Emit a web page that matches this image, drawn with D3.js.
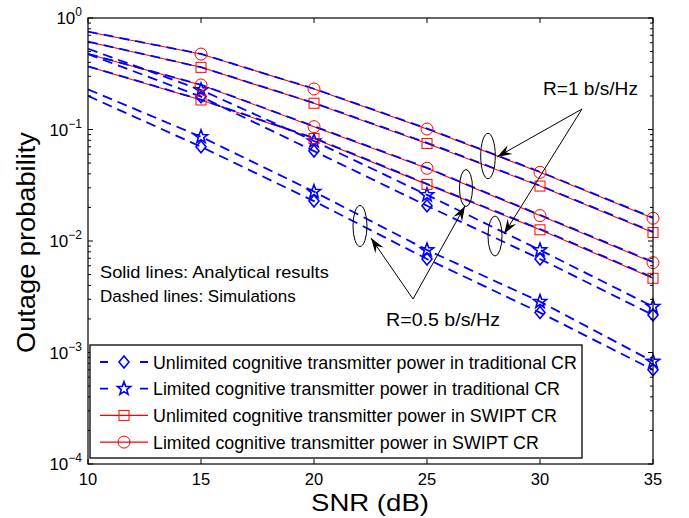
<!DOCTYPE html>
<html><head><meta charset="utf-8">
<script src="https://cdn.jsdelivr.net/npm/d3@7"></script>
<style>
html,body{margin:0;padding:0;background:#fff;}
text{font-family:"Liberation Sans",Arial,Helvetica,sans-serif;}
</style></head>
<body>
<svg id="chart" width="689" height="518"></svg>
<script>
// ---- data ----
const snr = [10, 15, 20, 25, 30, 35];
const markerSnr = [15, 20, 25, 30, 35];
const xTicks = [10, 15, 20, 25, 30, 35];
const yTickExps = [0, -1, -2, -3, -4];

// R = 1 b/s/Hz
const tradUnlimR1 = [0.475, 0.197, 0.064, 0.0207, 0.0069, 0.00217];
const tradLimR1   = [0.53, 0.226, 0.0788, 0.0259, 0.0083, 0.00258];
const swiptUnlimR1 = [0.613, 0.361, 0.172, 0.075, 0.0311, 0.0119];
const swiptLimR1   = [0.753, 0.475, 0.231, 0.101, 0.0413, 0.0160];
const swiptUnlimR1Sim = [0.615, 0.362, 0.173, 0.076, 0.0314, 0.0121];
const swiptLimR1Sim   = [0.755, 0.476, 0.232, 0.102, 0.0417, 0.0162];
// R = 0.5 b/s/Hz
const tradUnlimR05 = [0.200, 0.070, 0.0228, 0.0069, 0.00228, 0.00070];
const tradLimR05   = [0.229, 0.086, 0.0277, 0.0083, 0.00286, 0.00083];
const swiptUnlimR05 = [0.367, 0.184, 0.083, 0.0322, 0.0126, 0.00463];
const swiptLimR05   = [0.475, 0.251, 0.106, 0.0449, 0.0169, 0.0064];
const swiptUnlimR05Sim = [0.369, 0.185, 0.084, 0.0325, 0.0128, 0.00470];
const swiptLimR05Sim   = [0.477, 0.252, 0.107, 0.0453, 0.0171, 0.0065];

const legendLabels = [
  "Unlimited cognitive transmitter power in traditional CR",
  "Limited cognitive transmitter power in traditional CR",
  "Unlimited cognitive transmitter power in SWIPT CR",
  "Limited cognitive transmitter power in SWIPT CR"
];

// ---- layout ----
const L = 88, R = 653, T = 18, B = 464;
const svg = d3.select("#chart");
const x = d3.scaleLinear().domain([10, 35]).range([L, R]);
const y = d3.scaleLog().domain([1e-4, 1]).range([B, T]);
const BLUE = "#0000ff", RED = "#ff0000";

// text placed at (tx,ty), stretched horizontally to width w, optional rotation
function fitText(parent, str, tx, ty, fs, w, rot){
  const t = parent.append("text").attr("x",0).attr("y",0).attr("font-size",fs).text(str);
  const w0 = t.node().getComputedTextLength();
  const sx = w0 > 0 ? w / w0 : 1;
  t.attr("transform", `translate(${tx},${ty})` + (rot ? ` rotate(${rot})` : "") + ` scale(${sx},1)`);
  return t;
}

// markers
function diamondPath(s){return `M0,${-6*s}L${5*s},0L0,${6*s}L${-5*s},0Z`;}
function starPath(s){
  let p=[];for(let i=0;i<10;i++){const r=(i%2?2.9:7)*s;const a=-Math.PI/2+i*Math.PI/5;p.push([r*Math.cos(a),r*Math.sin(a)]);}
  return "M"+p.map(d=>d[0].toFixed(2)+","+d[1].toFixed(2)).join("L")+"Z";
}
function drawMarker(g, type, cx, cy){
  if(type==="diamond") g.append("path").attr("d",diamondPath(1)).attr("transform",`translate(${cx},${cy})`).attr("fill","none").attr("stroke",BLUE).attr("stroke-width",1.6);
  else if(type==="star") g.append("path").attr("d",starPath(1)).attr("transform",`translate(${cx},${cy})`).attr("fill","none").attr("stroke",BLUE).attr("stroke-width",1.6);
  else if(type==="square") g.append("rect").attr("x",cx-5).attr("y",cy-5).attr("width",10).attr("height",10).attr("fill","none").attr("stroke",RED).attr("stroke-width",1);
  else if(type==="circle") g.append("circle").attr("cx",cx).attr("cy",cy).attr("r",6).attr("fill","none").attr("stroke",RED).attr("stroke-width",1);
}

const line = d3.line().x((d,i)=>x(snr[i])).y(d=>y(d));
const plot = svg.append("g");

// analytical SWIPT (red solid)
[swiptLimR1, swiptUnlimR1, swiptLimR05, swiptUnlimR05].forEach(vals=>{
  plot.append("path").attr("d",line(vals)).attr("fill","none").attr("stroke",RED).attr("stroke-width",1.1);
});
// simulations (blue dashed)
[swiptLimR1Sim, swiptUnlimR1Sim, swiptLimR05Sim, swiptUnlimR05Sim, tradLimR1, tradUnlimR1, tradLimR05, tradUnlimR05].forEach(vals=>{
  plot.append("path").attr("d",line(vals)).attr("fill","none").attr("stroke",BLUE).attr("stroke-width",1.8).attr("stroke-dasharray","10,6");
});
// markers
const markerSets = [
  [tradUnlimR1,"diamond"],[tradLimR1,"star"],[tradUnlimR05,"diamond"],[tradLimR05,"star"],
  [swiptUnlimR1,"square"],[swiptLimR1,"circle"],[swiptUnlimR05,"square"],[swiptLimR05,"circle"]
];
markerSets.forEach(([vals,type])=>{
  markerSnr.forEach(s=>{const i=snr.indexOf(s);drawMarker(plot,type,x(s),y(vals[i]));});
});

// ---- axes box & ticks ----
const ax = svg.append("g");
ax.append("rect").attr("x",L).attr("y",T).attr("width",R-L).attr("height",B-T).attr("fill","none").attr("stroke","#000").attr("stroke-width",1.2);
xTicks.forEach(t=>{
  ax.append("line").attr("x1",x(t)).attr("x2",x(t)).attr("y1",B).attr("y2",B-5).attr("stroke","#000");
  ax.append("line").attr("x1",x(t)).attr("x2",x(t)).attr("y1",T).attr("y2",T+5).attr("stroke","#000");
  ax.append("text").attr("x",x(t)).attr("y",B+21).attr("text-anchor","middle").attr("font-size",16.5).text(t);
});
yTickExps.forEach(e=>{
  const v=Math.pow(10,e);
  ax.append("line").attr("x1",L).attr("x2",L+5).attr("y1",y(v)).attr("y2",y(v)).attr("stroke","#000");
  ax.append("line").attr("x1",R).attr("x2",R-5).attr("y1",y(v)).attr("y2",y(v)).attr("stroke","#000");
  const tx=ax.append("text").attr("x",L-6).attr("y",y(v)+6).attr("text-anchor","end").attr("font-size",17);
  tx.append("tspan").text("10");
  tx.append("tspan").attr("dy",-8).attr("font-size",12).text(e===0?"0":"\u2212"+(-e));
  if(e>-4){for(let k=2;k<=9;k++){const mv=k*Math.pow(10,e-1);
    ax.append("line").attr("x1",L).attr("x2",L+3).attr("y1",y(mv)).attr("y2",y(mv)).attr("stroke","#000");
    ax.append("line").attr("x1",R).attr("x2",R-3).attr("y1",y(mv)).attr("y2",y(mv)).attr("stroke","#000");
  }}
});
fitText(svg, "SNR (dB)", 311, 511, 24, 118);
fitText(svg, "Outage probability", 35, 353, 26, 221, -90);

// ---- annotations ----
const ann = svg.append("g");
fitText(ann, "Solid lines: Analytical results", 100, 278, 17, 229);
fitText(ann, "Dashed lines: Simulations", 100, 302, 17, 196);
fitText(ann, "R=1 b/s/Hz", 543, 95, 18, 95);
fitText(ann, "R=0.5 b/s/Hz", 386, 326, 18, 114);
[[488,156,7.3,22.7],[466,188,6.5,18.5],[495,236,7,20],[360,226,7,20.5]].forEach(e=>{
  ann.append("ellipse").attr("cx",e[0]).attr("cy",e[1]).attr("rx",e[2]).attr("ry",e[3]).attr("fill","none").attr("stroke","#000").attr("stroke-width",1);
});
function arrow(x1,y1,x2,y2){
  ann.append("line").attr("x1",x1).attr("y1",y1).attr("x2",x2).attr("y2",y2).attr("stroke","#000").attr("stroke-width",1);
  const a=Math.atan2(y2-y1,x2-x1), len=15, w=5;
  const bx=x2-len*Math.cos(a), by=y2-len*Math.sin(a);
  const mx=x2-len*0.65*Math.cos(a), my=y2-len*0.65*Math.sin(a);
  const px=-Math.sin(a), py=Math.cos(a);
  ann.append("path").attr("d",`M${x2},${y2}L${bx+w*px},${by+w*py}L${mx},${my}L${bx-w*px},${by-w*py}Z`).attr("fill","#000");
}
arrow(582,109,497,157);
arrow(582,109,504,234);
arrow(413,299,465,206);
arrow(413,299,371,238);

// ---- legend ----
const lg = svg.append("g");
lg.append("rect").attr("x",90).attr("y",345).attr("width",492).attr("height",113).attr("fill","#fff").attr("stroke","#000").attr("stroke-width",1.3);
const legTypes=[["diamond",BLUE,true],["star",BLUE,true],["square",RED,false],["circle",RED,false]];
const legWidths=[424,407,404,386];
legTypes.forEach((lt,i)=>{
  const cy=362+i*26.7;
  const ln=lg.append("line").attr("x1",100).attr("x2",148).attr("y1",cy).attr("y2",cy).attr("stroke",lt[1]);
  if(lt[2]) ln.attr("stroke-width",1.8).attr("stroke-dasharray","8,32"); else ln.attr("stroke-width",1.1);
  drawMarker(lg,lt[0],124,cy);
  fitText(lg, legendLabels[i], 153, cy+6.5, 18.5, legWidths[i]);
});
</script>
</body></html>
